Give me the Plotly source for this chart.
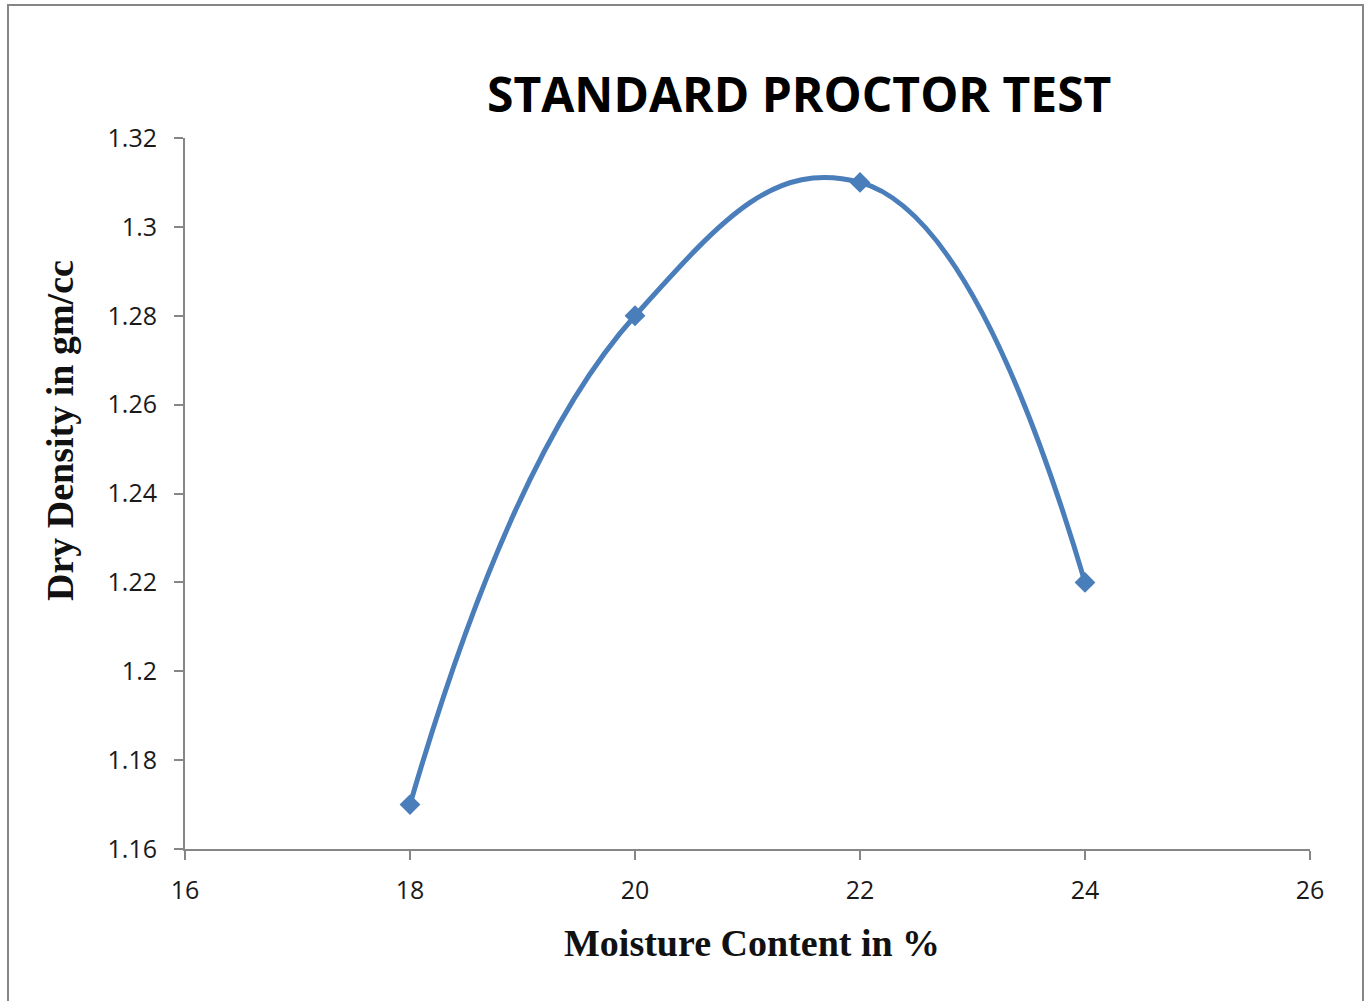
import plotly.graph_objects as go

moisture = [18, 20, 22, 24]
dry_density = [1.17, 1.28, 1.31, 1.22]
x_ticks = [16, 18, 20, 22, 24, 26]
y_ticks = [1.16, 1.18, 1.2, 1.22, 1.24, 1.26, 1.28, 1.3, 1.32]
y_tick_text = ["1.16", "1.18", "1.2", "1.22", "1.24", "1.26", "1.28", "1.3", "1.32"]

W, H = 1368, 1001
L, R, T, B = 185, 58, 138, 152
pw, ph = W - L - R, H - T - B

def px_x(p):
    return (p - L) / pw

def px_y(p):
    return (T + ph - p) / ph

color = "#4a7ebb"
fig = go.Figure()
fig.add_trace(go.Scatter(
    x=moisture, y=dry_density, mode="lines+markers",
    line=dict(color=color, width=5, shape="spline", smoothing=1.3),
    marker=dict(symbol="diamond", size=16, color=color),
    showlegend=False, cliponaxis=False,
))

tick_font = dict(family="Open Sans, Liberation Sans, sans-serif", size=25, color="#1a1a1a")
fig.update_layout(
    width=W, height=H,
    margin=dict(l=L, r=R, t=T, b=B),
    paper_bgcolor="white", plot_bgcolor="white",
    xaxis=dict(range=[16, 26], tickvals=x_ticks, showgrid=False, zeroline=False,
               showline=True, linecolor="#868686", linewidth=2,
               ticks="outside", ticklen=9, tickcolor="#868686", tickwidth=2,
               tickfont=tick_font, ticklabelstandoff=9),
    yaxis=dict(range=[1.16, 1.32], tickvals=y_ticks, ticktext=y_tick_text,
               showgrid=False, zeroline=False,
               showline=True, linecolor="#868686", linewidth=2,
               ticks="outside", ticklen=9, tickcolor="#868686", tickwidth=2,
               tickfont=tick_font, ticklabelstandoff=12),
    shapes=[dict(type="rect", xref="paper", yref="paper",
                 x0=px_x(8), x1=px_x(1363), y0=px_y(1010), y1=px_y(5),
                 line=dict(color="#868686", width=2), fillcolor="rgba(0,0,0,0)",
                 layer="below")],
    annotations=[
        dict(text="<b>STANDARD PROCTOR TEST</b>", xref="paper", yref="paper",
             x=px_x(799), y=px_y(93), xanchor="center", yanchor="middle", showarrow=False,
             font=dict(family="Open Sans, Liberation Sans, sans-serif", size=48, color="black")),
        dict(text="<b>Dry Density in gm/cc</b>", xref="paper", yref="paper",
             x=px_x(60), y=px_y(431), xanchor="center", yanchor="middle",
             showarrow=False, textangle=-90,
             font=dict(family="Liberation Serif, Times New Roman, serif", size=38, color="#111111")),
        dict(text="<b>Moisture Content in %</b>", xref="paper", yref="paper",
             x=px_x(752), y=px_y(943), xanchor="center", yanchor="middle", showarrow=False,
             font=dict(family="Liberation Serif, Times New Roman, serif", size=38, color="#111111")),
    ],
)
fig.write_html("out.html", config={"displayModeBar": False},
               post_script="document.body.style.margin='0';document.body.style.overflow='hidden';")
